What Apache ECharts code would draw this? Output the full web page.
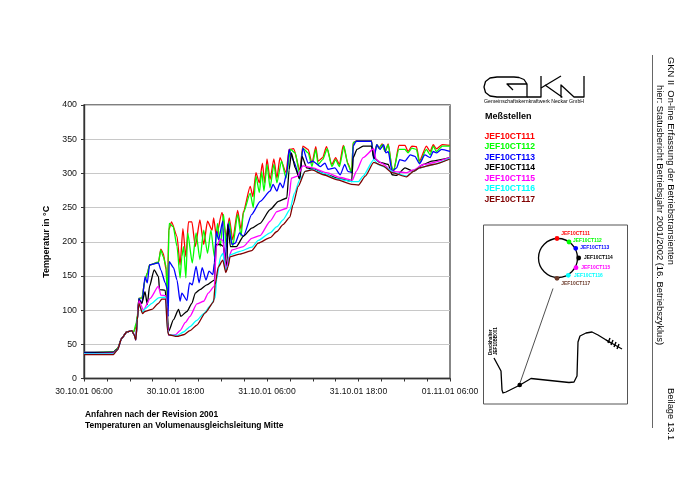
<!DOCTYPE html>
<html><head><meta charset="utf-8">
<style>html,body{margin:0;padding:0;background:#fff}#c{width:700px;height:495px}</style>
<script src="https://cdn.jsdelivr.net/npm/echarts@6/dist/echarts.min.js"></script>
</head><body><div id="c"></div>
<script>
const seriesNames = ['JEF10CT111','JEF10CT112','JEF10CT113','JEF10CT114','JEF10CT115','JEF10CT116','JEF10CT117'];
const seriesColors = ['#ff0000','#00ff00','#0000ff','#000000','#ff00ff','#00ffff','#800000'];
const xTickLabels = ['30.10.01 06:00','30.10.01 18:00','31.10.01 06:00','31.10.01 18:00','01.11.01 06:00'];
// [hours since 30.10.01 06:00, temperature in deg C]
const ct111 = [[0,38],[3.85,39],[4.4,44],[4.95,59],[5.6,68],[6.26,70],[6.5,68],[6.8,75],[7,90],[7.2,117],[7.6,118],[8,144],[8.3,154],[8.6,166],[9.77,170],[10.07,189],[10.4,183],[10.77,159],[10.95,110],[11.1,217],[11.48,229],[12.2,208],[12.6,166],[12.97,219],[13.36,178],[13.7,229],[14.15,229],[14.6,193],[15.2,232],[15.7,196],[16.2,230],[16.8,217],[17,235],[17.35,208],[18.1,243],[18.66,208],[19.05,235],[19.5,203],[20.15,246],[20.6,218],[20.9,244],[21.8,281],[22.15,266],[22.55,301],[23,286],[23.4,315],[23.7,286],[24,321],[24.4,291],[24.9,321],[25.3,293],[25.7,323],[26.5,301],[26.9,335],[27.5,336],[28.3,305],[28.7,340],[29.4,335],[29.9,315],[30.4,339],[30.7,318],[31.3,323],[31.8,339],[32.5,313],[33,323],[33.5,313],[34,341],[34.6,315],[35.1,301],[35.3,345],[35.8,348],[37.7,348],[38,325],[38.4,342],[38.7,337],[39.1,343],[39.5,332],[39.9,343],[40.4,308],[40.6,303],[41.3,341],[42.1,341],[42.5,332],[43,340],[43.6,339],[44,318],[44.9,340],[45.4,332],[45.8,342],[46.2,336],[47,342],[48,341]];
const ct112 = [[0,38],[3.85,39],[4.4,44],[4.95,59],[5.6,68],[6.26,70],[6.5,68],[6.85,81],[7,92],[7.2,117],[7.6,118],[8,144],[8.3,154],[8.6,166],[9.77,170],[10.07,188],[10.4,178],[10.77,164],[10.95,110],[11.04,170],[11.17,227],[11.7,222],[12.2,193],[12.6,147],[12.83,178],[13.05,193],[13.36,147],[13.6,213],[14.2,169],[14.7,213],[15.2,174],[15.7,217],[16.2,183],[16.65,217],[17.1,178],[17.5,227],[17.87,193],[18.3,240],[18.66,193],[19.05,230],[19.5,193],[20.15,240],[20.6,208],[20.9,242],[21.8,271],[22.2,250],[22.55,296],[23,272],[23.3,303],[23.6,274],[24,313],[24.4,279],[24.9,313],[25.3,286],[25.9,318],[26.5,293],[27.1,335],[27.7,330],[28.3,298],[28.7,337],[29.4,330],[29.9,310],[30.4,335],[30.7,313],[31.3,320],[31.9,336],[32.5,310],[33,320],[33.5,310],[34.1,340],[34.6,313],[35.1,301],[35.3,345],[35.8,347],[37.7,347],[38,323],[38.4,342],[38.7,337],[39.1,342],[39.5,332],[39.9,342],[40.4,308],[40.6,305],[41.3,335],[42.1,335],[42.5,330],[43,337],[43.6,335],[44,315],[44.9,335],[45.4,327],[45.8,340],[46.2,332],[47,340],[48,340]];
const ct113 = [[0,38],[3.85,38],[4.4,43],[4.95,59],[5.6,68],[6.26,70],[6.57,64],[6.8,58],[7,88],[7.2,117],[7.6,110],[8,149],[8.3,140],[8.6,166],[9.77,169],[10.07,159],[10.65,140],[10.95,130],[11.04,91],[11.17,171],[11.74,162],[12.2,144],[12.6,113],[12.83,125],[13.5,114],[13.84,140],[14.2,137],[14.7,164],[15.1,140],[15.5,162],[16,144],[16.4,157],[16.9,152],[17.1,169],[17.35,215],[17.65,203],[18.2,230],[18.44,164],[18.9,227],[19.4,196],[19.84,198],[20.4,213],[20.9,208],[22,240],[23.1,259],[24.4,274],[24.8,284],[25.3,274],[25.7,286],[26.1,279],[26.6,301],[26.9,335],[27.2,325],[27.5,318],[28.3,293],[28.7,337],[29.4,315],[30,318],[31,310],[31.6,315],[32,306],[32.9,308],[33.6,298],[34.2,313],[34.6,303],[35.2,301],[35.3,340],[35.7,347],[37.7,347],[38,320],[38.4,342],[38.8,335],[39.3,342],[39.6,330],[39.9,332],[40.4,303],[41,308],[41.4,320],[42.1,318],[42.8,327],[43.4,325],[44,314],[44.7,327],[45.4,323],[45.8,332],[46.2,330],[46.9,335],[48,332]];
const ct114 = [[0,37],[3.85,38],[4.4,43],[4.95,59],[5.6,68],[6.26,70],[6.57,64],[6.8,57],[7,87],[7.2,115],[7.6,110],[8,127],[8.3,108],[8.6,135],[9.2,159],[9.77,149],[9.9,130],[10.65,129],[10.86,105],[11.1,69],[11.74,86],[12.4,101],[12.7,91],[13.5,98],[14.15,110],[14.6,125],[15.2,130],[16.1,137],[17.1,144],[17.35,196],[17.87,196],[18.3,193],[18.75,159],[18.85,225],[19.2,193],[20,193],[20.9,208],[22,220],[23.1,227],[24.4,247],[25.5,259],[26.6,264],[26.9,305],[27.2,330],[27.7,308],[28.3,291],[28.6,325],[29.2,308],[30,307],[31.8,298],[33.6,292],[35.1,288],[35.3,323],[35.8,335],[36.6,340],[37.7,340],[38,323],[38.8,316],[39.9,313],[40.4,298],[41,297],[42.1,308],[43.2,303],[44.5,313],[45.6,318],[48,323]];
const ct115 = [[0,36],[3.85,37],[4.4,42],[4.95,59],[5.6,68],[6.26,70],[6.57,64],[6.8,56],[7,86],[7.2,114],[7.8,100],[8.67,117],[9.77,135],[10.07,122],[10.73,121],[10.95,81],[11.1,63],[12,64],[12.6,70],[13.3,82],[13.9,91],[14.8,109],[15.7,113],[16.3,125],[17.1,135],[17.35,193],[17.87,204],[18.2,202],[18.66,159],[19,178],[19.4,188],[20.9,193],[22,205],[23.1,209],[24.4,230],[25.3,244],[26.6,249],[26.9,266],[27.2,293],[28,296],[28.7,311],[30,308],[31.8,301],[33.6,294],[35.2,290],[35.7,303],[36.6,323],[38,336],[38.3,320],[39.2,314],[40.4,303],[42.3,301],[43.2,305],[44.5,313],[48,323]];
const ct116 = [[0,36],[3.85,36],[4.4,42],[4.95,59],[5.6,68],[6.26,70],[6.57,64],[6.8,56],[7,86],[7.2,108],[7.7,97],[8,102],[8.9,110],[9.77,118],[10.7,119],[10.95,72],[11.1,64],[12.2,63],[13.05,68],[13.9,76],[14.8,85],[15.7,95],[16.55,106],[17.2,118],[17.4,145],[17.9,178],[18.2,183],[18.6,157],[18.9,166],[19.15,181],[20.45,186],[22,192],[22.85,202],[24.4,213],[25.3,222],[26.1,232],[27,247],[27.6,271],[28.3,291],[29,303],[29.9,306],[31.4,300],[33.1,292],[35.1,288],[36,288],[36.6,296],[38,320],[38.6,313],[39.7,308],[40.6,301],[42.3,296],[43.2,303],[44,308],[45.8,313],[48,322]];
const ct117 = [[0,35],[3.85,35],[4.4,42],[4.95,59],[5.6,68],[6.26,70],[6.57,64],[6.8,56],[7,86],[7.2,110],[7.67,95],[8,98],[8.9,101],[9.77,110],[10.2,116],[10.7,116],[10.95,70],[11.1,64],[12.2,61.5],[13.05,64],[13.9,70],[14.8,78],[15.9,96],[17,112],[17.2,137],[17.6,163],[18.2,173],[18.6,155],[18.9,164],[19.15,178],[20.45,182],[22,187],[22.85,198],[24.4,206],[25.3,215],[26.1,225],[27,236],[27.4,254],[28.1,281],[29,303],[29.9,305],[31.4,298],[33.1,291],[35.1,284],[36,283],[36.9,296],[38,316],[39.2,311],[40.4,301],[42.3,295],[43.2,303],[44,308],[45.8,313],[48,321]];
const allSeries = [ct111,ct112,ct113,ct114,ct115,ct116,ct117];
const insetPoints = [[557,238.5],[569,242],[575.7,248.3],[578.7,258],[576,267.7],[568.3,275.3],[557,278.3]];
const insetLabels = [[561.3,233.3],[573,240.7],[580.3,248],[584,258],[581.3,267.7],[574,275.3],[561.3,283.7]];
const FONT = '"Liberation Sans", Arial, sans-serif';
const t = (x,y,text,o={}) => ({type:'text',x,y,silent:true,rotation:o.rot||0,style:{text,fill:o.fill||'#000',font:`${o.bold?'bold ':''}${o.size||9}px ${FONT}`,align:o.align||'left',verticalAlign:o.va||'middle'}});
const stroke = (points,w=1,c='#000') => ({type:'polyline',silent:true,shape:{points},style:{fill:'none',stroke:c,lineWidth:w,lineJoin:'round'}});
const R90 = -Math.PI/2;
const graphics = [
  // Logo
  stroke([[527,84],[524,79.5],[519,77.5],[514,77],[497,77],[490,78],[485.5,81.5],[484,87],[485.5,92.5],[490,96],[497,97],[527,97],[527,84],[507,84],[513,90]],1.3),
  stroke([[527,97],[541,97],[541,76]],1.3),
  stroke([[541,88],[561,76]],1.3),
  stroke([[545,85],[562,97],[561,97],[561,85],[574,97],[584,97],[584,76]],1.3),
  t(484,101.5,'Gemeinschaftskernkraftwerk Neckar GmbH',{size:5.2}),
  t(485,116.5,'Meßstellen',{bold:true,size:9}),
  // captions
  t(85,415,'Anfahren nach der Revision 2001',{bold:true,size:8.45}),
  t(85,426,'Temperaturen an Volumenausgleichsleitung Mitte',{bold:true,size:8.45}),
  // right-hand header
  {type:'line',silent:true,shape:{x1:652.5,y1:55,x2:652.5,y2:428},style:{stroke:'#666',lineWidth:1}},
  t(671,57,'GKN II  On-line Erfassung der Betriebstransienten',{rot:R90,size:9.4}),
  t(659.5,85,'hier: Statusbericht Betriebsjahr 2001/2002 (16. Betriebszyklus)',{rot:R90,size:9.4}),
  t(671,388,'Beilage 13.1',{rot:R90,size:9.4}),
  // inset
  {type:'rect',silent:true,shape:{x:483.5,y:225,width:144,height:179},style:{fill:'#fff',stroke:'#555',lineWidth:1}},
  {type:'circle',silent:true,shape:{cx:558,cy:258,r:19.5},style:{fill:'none',stroke:'#000',lineWidth:1.3}},
  stroke([[553,288.5],[520,383]],0.8,'#222'),
  stroke([[494,358],[501,371],[502,390],[503,393],[506,392],[520,385],[531,378.5],[569,382.5],[574,382],[577,376],[578,342],[580,336],[586,333],[592,332],[598,335],[611,343]],1.3),
  {type:'circle',silent:true,shape:{cx:519.7,cy:385,r:2.3},style:{fill:'#000'}},
  stroke([[606,340],[622,349]],1.2),
  stroke([[610,338],[608,343]],1.4),
  stroke([[613,340],[611,345]],1.4),
  stroke([[616,342],[614,347]],1.4),
  stroke([[619,344],[617,349]],1.4),
  t(491,355,'Druckhalter',{rot:Math.PI/2,size:4.6,bold:true}),
  t(496,355,'JEF10BB001',{rot:Math.PI/2,size:4.6,bold:true})
];
seriesNames.forEach((n,i)=>{
  graphics.push({type:'circle',silent:true,shape:{cx:insetPoints[i][0],cy:insetPoints[i][1],r:2.4},style:{fill:i===6?'#6b3a2a':seriesColors[i]}});
  graphics.push(t(insetLabels[i][0],insetLabels[i][1],n,{size:4.9,bold:true,fill:i===6?'#6b3a2a':seriesColors[i]}));
});
const chart = echarts.init(document.getElementById('c'),null,{renderer:'canvas',width:700,height:495});
chart.setOption({
  animation:false,backgroundColor:'#fff',
  textStyle:{fontFamily:FONT},
  grid:{left:84,top:105,width:366,height:273.5,show:true,borderColor:'#555',borderWidth:1.4,backgroundColor:'#fff'},
  legend:{show:true,orient:'vertical',left:484.5,top:132,padding:0,itemGap:1.5,itemWidth:0,itemHeight:8.8,icon:'none',selectedMode:false,
    data:seriesNames.map((n,i)=>({name:n,icon:'none',textStyle:{color:seriesColors[i],fontWeight:'bold',fontSize:8.6,fontFamily:FONT,padding:[0,0,0,-5],lineHeight:8.8}}))},
  xAxis:{type:'value',min:0,max:48,interval:12,
    axisLine:{onZero:false,lineStyle:{color:'#333',width:1.4}},
    axisTick:{show:true,length:3,lineStyle:{color:'#333'}},
    minorTick:{show:true,splitNumber:4,length:3,lineStyle:{color:'#333'}},
    splitLine:{show:false},minorSplitLine:{show:false},
    axisLabel:{fontSize:8.6,color:'#111',margin:9,showMinLabel:true,showMaxLabel:true,hideOverlap:false,
      formatter:v=>xTickLabels[Math.round(v/12)]}},
  yAxis:{type:'value',min:0,max:400,interval:50,
    name:'Temperatur in °C',nameLocation:'middle',nameGap:32,nameTextStyle:{fontWeight:'bold',fontSize:9,color:'#000',fontFamily:FONT},
    axisLine:{show:true,lineStyle:{color:'#333',width:1.4}},
    axisTick:{show:true,length:3,lineStyle:{color:'#333'}},
    splitLine:{show:true,lineStyle:{color:'#c8c8c8',width:1}},
    axisLabel:{fontSize:8.8,color:'#111',margin:7}},
  series:allSeries.map((d,i)=>({name:seriesNames[i],type:'line',data:d,showSymbol:false,symbol:'none',smooth:0.2,smoothMonotone:'x',clip:true,
    lineStyle:{color:seriesColors[i],width:1.3,join:'round'},itemStyle:{color:seriesColors[i]},emphasis:{disabled:true}})),
  graphic:graphics
});
</script></body></html>
